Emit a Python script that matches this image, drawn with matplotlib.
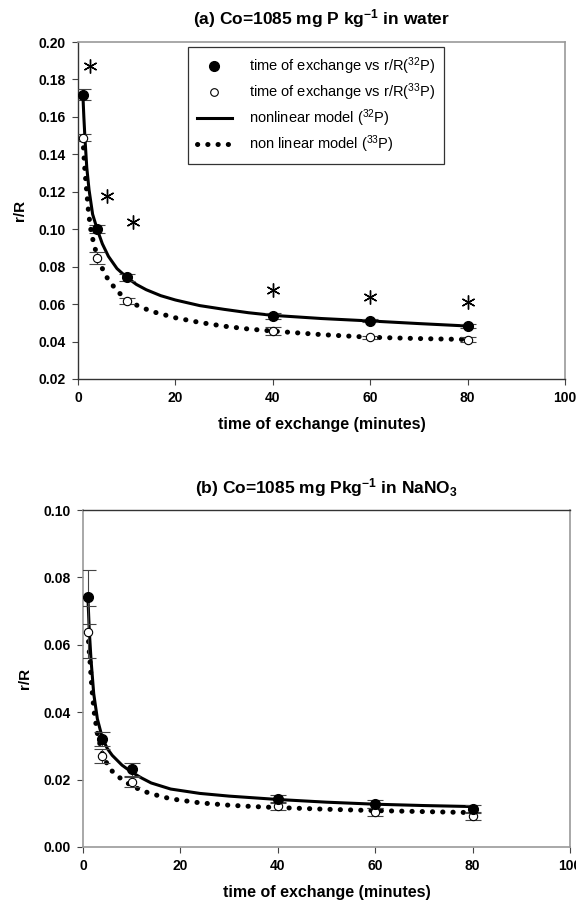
import matplotlib
matplotlib.use("Agg")
import matplotlib.pyplot as plt
from matplotlib.lines import Line2D

plt.rcParams['font.family'] = ['Liberation Sans', 'DejaVu Sans']
plt.rcParams['mathtext.fontset'] = 'custom'
plt.rcParams['mathtext.rm'] = 'Liberation Sans'
plt.rcParams['mathtext.it'] = 'Liberation Sans'
plt.rcParams['mathtext.bf'] = 'Liberation Sans:bold'

# ---------------- data ----------------
time_pts = [1, 4, 10, 40, 60, 80]

# panel (a) water
a_p32 = [0.1718, 0.100, 0.0743, 0.0538, 0.0511, 0.0483]
a_p32_err = [0.003, 0.002, 0.002, 0.0015, 0.0008, 0.0012]
a_p33 = [0.1489, 0.0846, 0.0618, 0.0456, 0.0422, 0.0410]
a_p33_err = [0.002, 0.003, 0.0015, 0.002, 0.0008, 0.0015]
a_ast_t = [2.5, 6.0, 11.3, 40, 60, 80]
a_ast_y = [0.187, 0.1177, 0.104, 0.0675, 0.064, 0.061]

a_fit32_t = [1, 1.2, 1.44, 1.8, 2.27, 3, 4, 5, 6.25, 8, 10, 12, 14, 17, 20, 25, 30, 35, 40,
             50, 60, 70, 80]
a_fit32_y = [0.172, 0.160, 0.148, 0.133, 0.121, 0.108, 0.0995, 0.0922, 0.0855, 0.0790, 0.0743,
             0.0705, 0.0677, 0.0645, 0.0622, 0.0592, 0.0572, 0.0554, 0.0540, 0.0523, 0.0510,
             0.0496, 0.0483]
a_fit33_t = [1, 1.2, 1.4, 1.79, 2.2, 2.7, 3.4, 4, 5, 6, 8, 10, 12, 15, 20, 25, 30, 35, 40,
             50, 60, 70, 80]
a_fit33_y = [0.149, 0.140, 0.132, 0.120, 0.108, 0.0985, 0.0905, 0.0858, 0.0790, 0.0740, 0.0670,
             0.0625, 0.0595, 0.0562, 0.0527, 0.0502, 0.0482, 0.0467, 0.0456, 0.0437, 0.0423,
             0.0416, 0.0411]

# panel (b) NaNO3
b_p32 = [0.0743, 0.032, 0.023, 0.0142, 0.0128, 0.0112]
b_p32_err = [0.008, 0.002, 0.002, 0.0012, 0.0012, 0.0012]
b_p33 = [0.0639, 0.027, 0.0193, 0.0122, 0.0105, 0.0092]
b_p33_err = [0.0077, 0.002, 0.0015, 0.0012, 0.0012, 0.0012]

b_fit32_t = [1, 1.3, 1.65, 2.2, 2.95, 4, 5, 6, 8, 10, 12, 14, 18, 24, 30, 35, 40, 50, 60, 70, 80]
b_fit32_y = [0.0743, 0.064, 0.0555, 0.0455, 0.0380, 0.0322, 0.0292, 0.0272, 0.0243, 0.0222,
             0.0205, 0.0190, 0.0172, 0.0159, 0.0151, 0.0146, 0.0141, 0.0133, 0.0127, 0.0123,
             0.0120]
b_fit33_t = [1, 1.2, 1.44, 1.85, 2.3, 3, 4, 5, 6, 8, 10, 12, 14, 18, 24, 30, 35, 40, 50, 60, 70, 80]
b_fit33_y = [0.064, 0.0595, 0.0550, 0.0465, 0.0400, 0.0332, 0.0276, 0.0245, 0.0225, 0.0200,
             0.0182, 0.0168, 0.0158, 0.0143, 0.0131, 0.0124, 0.0120, 0.0117, 0.0112, 0.0108,
             0.0105, 0.0102]

x_ticks = [0, 20, 40, 60, 80, 100]
a_yticks = [0.02, 0.04, 0.06, 0.08, 0.10, 0.12, 0.14, 0.16, 0.18, 0.20]
b_yticks = [0.00, 0.02, 0.04, 0.06, 0.08, 0.10]

labels = ['time of exchange vs r/R($^{32}$P)', 'time of exchange vs r/R($^{33}$P)',
          'nonlinear model ($^{32}$P)', 'non linear model ($^{33}$P)']

# ---------------- figure ----------------
W, H = 576, 906
fig = plt.figure(figsize=(W / 100, H / 100), dpi=100)
ax1 = fig.add_axes([78 / W, 1 - 379 / H, 487 / W, 337 / H])
ax2 = fig.add_axes([83 / W, 1 - 847 / H, 487 / W, 337 / H])

dot_style = dict(color='black', lw=3.6, linestyle=(0, (0.05, 2.0)), dash_capstyle='round')


def draw(ax, p32, e32, p33, e33, f32t, f32y, f33t, f33y, yticks, ylim, spine_dark, spine_light):
    ax.plot(f33t, f33y, zorder=3, **dot_style)
    ax.plot(f32t, f32y, color='black', lw=2.2, zorder=4)
    ax.errorbar(time_pts, p33, yerr=e33, fmt='o', ms=6, mfc='white', mec='black', mew=0.8,
                ecolor='#444444', elinewidth=0.8, capsize=6, capthick=0.8, zorder=5)
    ax.errorbar(time_pts, p32, yerr=e32, fmt='o', ms=7, mfc='black', mec='black',
                ecolor='#444444', elinewidth=0.8, capsize=6, capthick=0.8, zorder=6)
    ax.set_xlim(0, 100)
    ax.set_ylim(*ylim)
    ax.set_xticks(x_ticks)
    ax.set_xticklabels([str(t) for t in x_ticks], fontweight='bold', fontsize=10)
    ax.set_yticks(yticks)
    ax.set_yticklabels(['%.2f' % v for v in yticks], fontweight='bold', fontsize=10)
    ax.tick_params(direction='out', length=4, width=0.8, pad=5)
    for s in spine_dark:
        ax.spines[s].set_color('#333333')
        ax.spines[s].set_linewidth(1.0)
    for s in spine_light:
        ax.spines[s].set_color('#999999')
        ax.spines[s].set_linewidth(1.2)
    ax.tick_params(colors='#444444', labelcolor='black')
    ax.set_xlabel('time of exchange (minutes)', fontweight='bold', fontsize=11.5, labelpad=8)
    ax.set_ylabel('r/R', fontweight='bold', fontsize=11, labelpad=8)


draw(ax1, a_p32, a_p32_err, a_p33, a_p33_err, a_fit32_t, a_fit32_y, a_fit33_t, a_fit33_y,
     a_yticks, (0.02, 0.20), ['left', 'bottom'], ['top', 'right'])
draw(ax2, b_p32, b_p32_err, b_p33, b_p33_err, b_fit32_t, b_fit32_y, b_fit33_t, b_fit33_y,
     b_yticks, (0.00, 0.10), ['top'], ['left', 'bottom', 'right'])

ax1.plot(a_ast_t, a_ast_y, linestyle='none', marker=(6, 2, 0), ms=10, mew=1.0,
         color='black', zorder=7)

ax1.set_title(r'(a) Co=1085 mg P kg$^{\mathbf{-1}}$ in water', fontweight='bold',
              fontsize=12.5, pad=13)
ax2.set_title(r'(b) Co=1085 mg Pkg$^{\mathbf{-1}}$ in NaNO$_{\mathbf{3}}$', fontweight='bold',
              fontsize=12.5, pad=12)

handles = [
    Line2D([], [], linestyle='none', marker='o', ms=7, mfc='black', mec='black'),
    Line2D([], [], linestyle='none', marker='o', ms=5.5, mfc='white', mec='black', mew=0.8),
    Line2D([], [], color='black', lw=2.2),
    Line2D([], [], **dot_style),
]
leg = ax1.legend(handles, labels, loc='upper left', bbox_to_anchor=(0.226, 0.985),
                 fontsize=10.5, frameon=True, fancybox=False, framealpha=1,
                 edgecolor='#333333', handlelength=2.4, handletextpad=1.2,
                 labelspacing=0.3, borderpad=0.6, borderaxespad=0)
leg.get_frame().set_linewidth(0.9)

fig.savefig('out.png', dpi=100)
